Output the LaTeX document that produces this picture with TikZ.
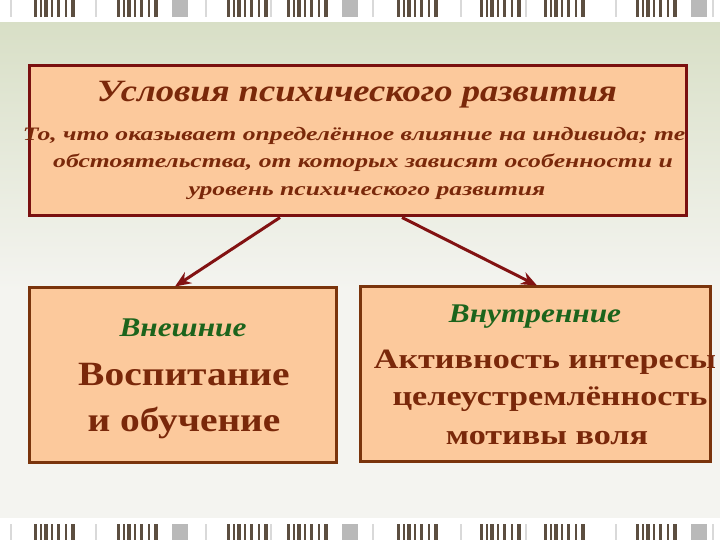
\documentclass[tikz,border=0pt]{standalone}
\usepackage{fontspec}
\setmainfont{Liberation Serif}
\newfontfamily\wideitfont[FakeStretch=1.18]{Liberation Serif}
\newfontfamily\subitfont[FakeStretch=1.35]{Liberation Serif}
\newfontfamily\kindfont[FakeStretch=1.16]{Liberation Serif}
\newfontfamily\midfont[FakeStretch=1.22]{Liberation Serif}
\newfontfamily\bigfont[FakeStretch=1.16]{Liberation Serif}
\usetikzlibrary{arrows.meta}
\usetikzlibrary{calc}

\definecolor{boxfill}{RGB}{252,201,156}
\definecolor{topline}{RGB}{122,16,16}
\definecolor{lowline}{RGB}{122,52,12}
\definecolor{arrowcol}{RGB}{130,18,18}
\definecolor{textbrown}{RGB}{122,40,10}
\definecolor{textgreen}{RGB}{28,100,28}
\definecolor{bgtop}{RGB}{216,223,198}
\definecolor{bgbot}{RGB}{244,244,240}
\definecolor{barcol}{RGB}{92,78,64}

\tikzset{
  box/.style={draw, line width=3pt, fill=boxfill, inner sep=0pt},
  headtext/.style={anchor=base, text=textbrown, font=\wideitfont\fontsize{31}{33}\selectfont\bfseries\itshape},
  subtext/.style={anchor=base, text=textbrown, font=\subitfont\fontsize{19}{21}\selectfont\bfseries\itshape},
  kindtext/.style={anchor=base, text=textgreen, font=\kindfont\fontsize{27}{29}\selectfont\bfseries\itshape},
  bigtext/.style={anchor=base, text=textbrown, font=\bigfont\fontsize{34}{36}\selectfont\bfseries},
  midtext/.style={anchor=base, text=textbrown, font=\midfont\fontsize{28}{30}\selectfont\bfseries},
  link/.style={draw=arrowcol, line width=3pt, -{Stealth[length=16pt, width=13pt]}}
}

\begin{document}
\begin{tikzpicture}[x=1pt, y=1pt]
      \useasboundingbox (0,0) rectangle (720,540);

      % background and the two bands
      \fill[bgbot] (0,0) rectangle (720,540);
      \shade[top color=bgtop, bottom color=bgbot] (0,250) rectangle (720,520);
      \fill[white] (0,518) rectangle (720,540);
      \fill[white] (0,0) rectangle (720,22);
      \foreach \gx in {34,117,227,287,397,480,544,636} {
        \foreach \dx/\w in {0/3,6/2,10/4,17/2,23/3,31/2,37/4} {
          \fill[barcol] (\gx+\dx,523) rectangle +(\w,17);
          \fill[barcol] (\gx+\dx,0) rectangle +(\w,16);
        }
      }
      \foreach \gx in {172,342,691} {
        \fill[gray!55] (\gx,523) rectangle +(16,17);
        \fill[gray!55] (\gx,0) rectangle +(16,16);
      }
      \foreach \gx in {10,95,205,270,372,460,525,615,712} {
        \fill[gray!30] (\gx,523) rectangle +(2,17);
        \fill[gray!30] (\gx,0) rectangle +(2,16);
      }

      % boxes
      \node[box, draw=topline, minimum width=657pt, minimum height=150pt] (top) at (357.5,399) {};
      \node[box, draw=lowline, minimum width=307pt, minimum height=175pt] (outer) at (182.5,164.5) {};
      \node[box, draw=lowline, minimum width=350pt, minimum height=175pt] (inner) at (535,165.5) {};

      % texts
      \node[headtext] (head) at (357,438) {Условия психического развития};
      \node[subtext] (sub1) at (354,399) {То, что оказывает определённое влияние на индивида; те};
      \node[subtext] (sub2) at (363,372) {обстоятельства, от которых зависят особенности и};
      \node[subtext] (sub3) at (367,344) {уровень психического развития};

      \node[kindtext] (outerkind) at (183,203) {Внешние};
      \node[bigtext] (outer1) at (184,154) {Воспитание};
      \node[bigtext] (outer2) at (184,108) {и обучение};

      \node[kindtext] (innerkind) at (535,217) {Внутренние};
      \node[midtext] (inner1) at (545,171) {Активность интересы};
      \node[midtext] (inner2) at (550,134) {целеустремлённость};
      \node[midtext] (inner3) at (547,95) {мотивы воля};

      % links
      \draw[link] ([xshift=-77.5pt]top.south) -- ([xshift=-7.5pt]outer.north);
      \draw[link] ([xshift=44.5pt]top.south) -- ([xshift=2pt]inner.north);
    \end{tikzpicture}
\end{document}
